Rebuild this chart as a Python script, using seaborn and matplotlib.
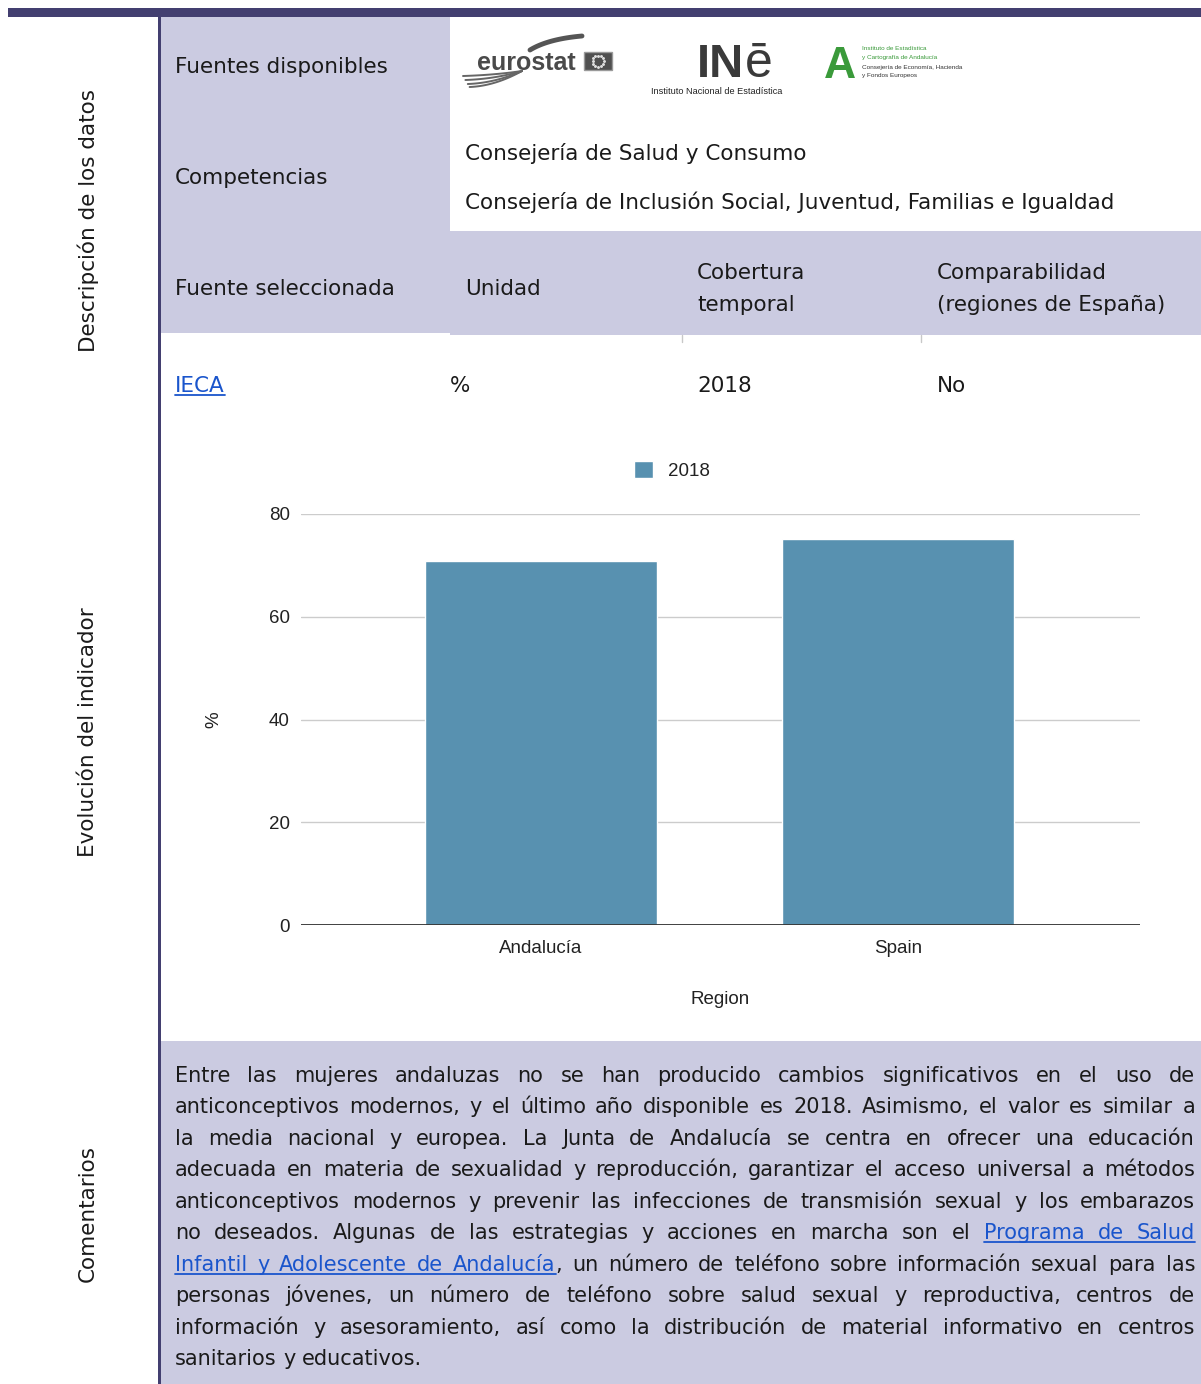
import numpy as np
import pandas as pd
import seaborn as sns
import matplotlib.pyplot as plt
from matplotlib.patches import Rectangle

W, H = 1201, 1384

# chart data
regions = ["Andalucía", "Spain"]
values = [70.8, 75.1]
years = ["2018", "2018"]
y_ticks = [0, 20, 40, 60, 80]

# table texts
side_labels = ["Descripción de los datos", "Evolución del indicador", "Comentarios"]
competencias = ["Consejería de Salud y Consumo",
                "Consejería de Inclusión Social, Juventud, Familias e Igualdad"]
header_cols = ["Fuente seleccionada", "Unidad", "Cobertura\ntemporal",
               "Comparabilidad\n(regiones de España)"]
row_vals = ["IECA", "%", "2018", "No"]
comment_lines = [
    "Entre las mujeres andaluzas no se han producido cambios significativos en el uso de",
    "anticonceptivos modernos, y el último año disponible es 2018. Asimismo, el valor es similar a",
    "la media nacional y europea. La Junta de Andalucía se centra en ofrecer una educación",
    "adecuada en materia de sexualidad y reproducción, garantizar el acceso universal a métodos",
    "anticonceptivos modernos y prevenir las infecciones de transmisión sexual y los embarazos",
    "no deseados. Algunas de las estrategias y acciones en marcha son el [Programa de Salud]",
    "[Infantil y Adolescente de Andalucía], un número de teléfono sobre información sexual para las",
    "personas jóvenes, un número de teléfono sobre salud sexual y reproductiva, centros de",
    "información y asesoramiento, así como la distribución de material informativo en centros",
    "sanitarios y educativos.",
]

dark = "#433f70"
lav = "#cbcbe1"
link = "#1a55cc"
bar_color = "#5891b0"
txt = "#1a1a1a"
TS = 15.5  # table font size

sns.set_theme(style="white")
plt.rcParams["font.family"] = ["DejaVu Sans"]

fig = plt.figure(figsize=(W / 100, H / 100), dpi=100)
bg = fig.add_axes([0, 0, 1, 1])
bg.set_xlim(0, W)
bg.set_ylim(H, 0)
bg.axis("off")
r = fig.canvas.get_renderer()


def box(x0, y0, x1, y1, c):
    bg.add_patch(Rectangle((x0, y0), x1 - x0, y1 - y0, facecolor=c,
                           edgecolor="none", zorder=0))


def width(s, fs, **kw):
    t = bg.text(0, 0, s, fontsize=fs, **kw)
    w = t.get_window_extent(renderer=r).width
    t.remove()
    return w


def curve(p0, p1, p2, **kw):
    t = np.linspace(0, 1, 30)[:, None]
    p = (1 - t) ** 2 * np.array(p0) + 2 * (1 - t) * t * np.array(p1) + t ** 2 * np.array(p2)
    bg.plot(p[:, 0], p[:, 1], solid_capstyle="round", **kw)


# frame
box(8, 8, W, 17, dark)
box(158, 17, 161, H, dark)
box(161, 17, 450, 333, lav)
box(450, 231, W, 335, lav)
box(161, 1041, W, H, lav)
for xs in [682, 921]:
    bg.plot([xs, xs], [335, 342], color="#c8c8c8", lw=1)

# side labels
for lbl, yc in zip(side_labels, [220, 732, 1214]):
    bg.text(88, yc, lbl, rotation=90, ha="center", va="center", fontsize=TS, color=txt)

# left column
bg.text(175, 67, "Fuentes disponibles", va="center", fontsize=TS, color=txt)
bg.text(175, 178, "Competencias", va="center", fontsize=TS, color=txt)
for s, yc in zip(competencias, [153, 202]):
    bg.text(465, yc, s, va="center", fontsize=TS, color=txt)

# header row + values row
for s, xc in zip(header_cols, [175, 465, 697, 937]):
    parts = s.split("\n")
    if len(parts) == 1:
        bg.text(xc, 289, s, va="center", fontsize=TS, color=txt)
    else:
        bg.text(xc, 273, parts[0], va="center", fontsize=TS, color=txt)
        bg.text(xc, 305, parts[1], va="center", fontsize=TS, color=txt)
for s, xc in zip(row_vals, [175, 450, 697, 937]):
    c = link if s == "IECA" else txt
    bg.text(xc, 392, s, va="baseline", fontsize=TS, color=c)
    if s == "IECA":
        bg.plot([xc, xc + width(s, TS)], [395, 395], color=link, lw=1.3)

# logos (drawn approximations)
bg.text(477, 70, "eurostat", ha="left", va="baseline", fontsize=18, fontweight="bold",
        family="Liberation Sans", color="#4a4a4a")
bg.add_patch(Rectangle((584, 52), 28, 18, facecolor="#505050", edgecolor="#9a9a9a", lw=1))
ang = np.linspace(0, 2 * np.pi, 12, endpoint=False)
bg.scatter(598 + 5.5 * np.cos(ang), 61 + 5.5 * np.sin(ang), s=1.2, color="#e0e0e0", zorder=3)
curve((530, 50), (548, 39), (582, 36), color="#555555", lw=3.5)
for y0 in [76, 80, 84, 87]:
    curve((463 + (y0 - 76) * 0.6, y0), (495, y0 - 1), (522, 71), color="#666666", lw=1.4)
bg.text(697, 77, "IN", ha="left", va="baseline", fontsize=34, fontweight="bold",
        family="Liberation Sans", color="#3a3a3a")
bg.text(745, 77, "ē", ha="left", va="baseline", fontsize=36,
        family="Liberation Sans", color="#3a3a3a")
bg.text(717, 92, "Instituto Nacional de Estadística", ha="center", va="center", fontsize=6.6,
        family="Liberation Sans", color="#222222")
bg.text(840, 78, "A", ha="center", va="baseline", fontsize=32, fontweight="bold",
        family="Liberation Sans", color="#3a9a3a")
for s, yc, c in [("Instituto de Estadística", 48, "#3a9a3a"),
                 ("y Cartografía de Andalucía", 57, "#3a9a3a"),
                 ("Consejería de Economía, Hacienda", 67, "#333333"),
                 ("y Fondos Europeos", 75, "#333333")]:
    bg.text(862, yc, s, va="center", fontsize=4.6, family="Liberation Sans", color=c)


# comments: justified text
def parse(line):
    words, cur, buf, inlink = [], [], "", False
    for ch in line:
        if ch in "[]":
            if buf:
                cur.append((buf, inlink))
                buf = ""
            inlink = ch == "["
        elif ch == " ":
            if buf:
                cur.append((buf, inlink))
                buf = ""
            words.append(cur)
            cur = []
        else:
            buf += ch
    if buf:
        cur.append((buf, inlink))
    if cur:
        words.append(cur)
    return words


CL, CR = 175, 1195
parsed = [parse(l) for l in comment_lines]
fs = 15.0
while True:
    sp = width("x x", fs) - width("xx", fs)
    widest = max(sum(width(s, fs) for w in p for s, _ in w) + sp * 0.8 * (len(p) - 1)
                 for p in parsed)
    if widest <= CR - CL or fs < 11:
        break
    fs -= 0.25

for i, words in enumerate(parsed):
    yb = 1082 + 31.45 * i
    ws = [sum(width(s, fs) for s, _ in w) for w in words]
    if i < len(parsed) - 1:
        gap = (CR - CL - sum(ws)) / (len(words) - 1)
    else:
        gap = sp
    x = CL
    ul0 = ul1 = None
    for w in words:
        for s, lk in w:
            sw = width(s, fs)
            bg.text(x, yb, s, fontsize=fs, va="baseline", color=link if lk else txt)
            if lk:
                if ul0 is None:
                    ul0 = x
                ul1 = x + sw
            elif ul0 is not None:
                bg.plot([ul0, ul1], [yb + 3, yb + 3], color=link, lw=1.3)
                ul0 = None
            x += sw
        x += gap
    if ul0 is not None:
        bg.plot([ul0, ul1], [yb + 3, yb + 3], color=link, lw=1.3)

# bar chart
df = pd.DataFrame({"Region": regions, "Porcentaje": values, "Año": years})
ax = fig.add_axes([301 / W, 1 - 925 / H, 839 / W, 411 / H])
sns.barplot(data=df, x="Region", y="Porcentaje", hue="Año", palette=[bar_color],
            saturation=1, width=0.65, dodge=False, ax=ax, zorder=2)
ax.set_ylim(0, 80)
ax.set_yticks(y_ticks)
ax.set_xlim(-0.672, 1.678)
ax.grid(axis="y", color="#cccccc", lw=1)
ax.set_axisbelow(True)
ax.axhline(0, color="#333333", lw=1.3, zorder=3)
sns.despine(ax=ax, left=True, bottom=True)
ax.tick_params(axis="y", length=0, labelsize=13.5, colors="#222222", pad=8)
ax.tick_params(axis="x", length=0, labelsize=13.5, colors="#222222", pad=10.5)
ax.set_xlabel("Region", fontsize=13.5, color="#222222", family="Liberation Sans")
ax.xaxis.set_label_coords(0.5, -0.16)
ax.set_ylabel("%", fontsize=13.5, color="#222222", family="Liberation Sans")
ax.yaxis.set_label_coords(-0.094, 0.5)
for lbl in ax.get_xticklabels() + ax.get_yticklabels():
    lbl.set_fontfamily("Liberation Sans")
sns.move_legend(ax, "center", bbox_to_anchor=(0.442, 1.105), frameon=False, title=None,
                fontsize=13.5, handlelength=1.0, handleheight=1.0, handletextpad=0.8)
for t in ax.get_legend().get_texts():
    t.set_fontfamily("Liberation Sans")
    t.set_color("#222222")

fig.savefig("out.png", dpi=100)
